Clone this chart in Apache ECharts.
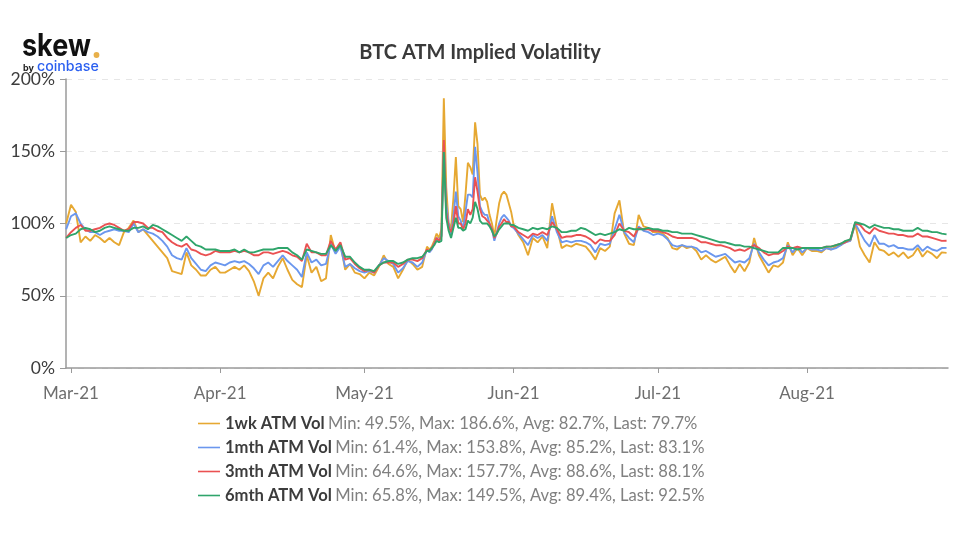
<!DOCTYPE html>
<html><head><meta charset="utf-8">
<script src="https://cdn.jsdelivr.net/npm/echarts@6/dist/echarts.min.js"></script>
<style>html,body{margin:0;padding:0;background:#fff}#c{width:960px;height:536px}</style>
</head><body><div id="c"></div>
<script>
const chartTitle = 'BTC ATM Implied Volatility';
const tickLabels = ['Mar-21','Apr-21','May-21','Jun-21','Jul-21','Aug-21'];
const tickMonths = [2,3,4,5,6,7];
const seriesNames = ['1wk ATM Vol','1mth ATM Vol','3mth ATM Vol','6mth ATM Vol'];
const seriesStats = [
 'Min: 49.5%, Max: 186.6%, Avg: 82.7%, Last: 79.7%',
 'Min: 61.4%, Max: 153.8%, Avg: 85.2%, Last: 83.1%',
 'Min: 64.6%, Max: 157.7%, Avg: 88.6%, Last: 88.1%',
 'Min: 65.8%, Max: 149.5%, Avg: 89.4%, Last: 92.5%'];
const colors = ['#e6a832','#6b97ee','#ea5152','#2fa56b'];

// Samples: daily from 28 Feb, twice daily around the mid-May spike, daily afterwards.
const wk1 = [100,113,108,87,91,88,92,90,87,90,87,85,94,97,102,94,96,92,88,84,80,76,67,66,65,80,71,68,64,64,68,70,
 66,66,68,70,68,71,67,60,50,62,66,62,70,76,68,61,58,56,78,66,70,60,62,92,80,86,68,72,66,65,
 62,66,64,70,78,72,70,62,68,75,72,68,70,
 84,82,84,88,93,90,96,186.6,125,100,97,118,146,112,110,101,120,142,139,134,170,155,120,116,118,115,106,100,91,103,114,120,122,120,114,108,
 99,92,87,78,90,87,91,83,114,97,83,85,84,86,85,84,80,75,83,81,84,107,116,93,86,85,106,98,97,94,
 94,93,90,83,82,85,83,84,81,75,78,75,73,75,77,71,66,72,67,73,90,78,72,66,71,70,73,87,78,83,78,
 83,81,81,80,83,82,84,85,88,88,100,84,78,73,87,82,81,78,80,77,80,76,78,83,77,81,79,76,80,79.7];
const mth1 = [96,105,107,100,96,94,94,92,94,95,96,95,95,94,100,94,96,94,93,91,88,84,78,76,75,83,76,72,68,67,71,73,
 72,71,73,74,73,74,72,69,65,71,73,70,74,78,74,71,68,63,80,73,75,71,72,86,79,84,70,72,69,67,
 66,67,66,71,76,74,72,66,69,74,73,70,73,
 82,80,82,86,90,88,92,153.8,113,100,92,105,122,105,102,96,108,120,120,118,153,135,112,108,106,106,100,96,88,94,100,104,106,104,102,98,
 97,93,89,85,92,90,92,88,105,94,87,88,87,88,88,87,85,80,86,85,86,96,106,94,90,87,98,95,94,92,
 93,92,89,85,84,85,84,84,83,80,81,79,77,78,79,76,73,74,73,76,86,80,75,71,73,74,76,85,80,84,80,
 83,82,82,81,83,82,83,85,87,88,100,94,88,84,92,86,86,84,85,83,83,82,82,85,81,84,82,81,83,83.1];
const mth3 = [90,94,97,99,95,95,96,97,99,100,99,97,95,96,101,101,100,97,97,95,94,90,87,85,84,86,82,81,79,78,79,81,
 80,80,80,81,80,81,80,78,78,80,80,79,80,81,80,78,77,74,86,80,80,78,78,88,82,87,75,76,72,69,
 67,68,66,71,73,73,73,70,72,75,75,74,76,
 82,81,83,86,90,88,91,157.7,108,98,94,100,112,100,100,96,100,110,106,110,132,122,110,105,104,102,100,96,90,93,98,100,103,101,101,98,
 98,94,92,90,93,92,94,92,101,96,90,91,91,92,92,91,89,86,89,88,88,92,100,95,94,91,97,96,96,95,
 95,94,93,91,90,90,90,90,89,87,87,86,85,85,84,83,81,82,81,83,85,83,80,78,79,79,81,84,83,84,83,
 83,83,83,83,84,84,85,86,87,89,100,99,95,93,97,95,94,93,93,92,92,91,91,93,91,91,90,89,88,88.1];
const mth6 = [90,92,93,96,97,96,94,95,97,98,97,96,95,95,97,97,98,96,99,98,96,94,92,90,88,91,88,85,84,82,82,82,
 81,81,81,82,80,82,80,80,81,82,82,82,83,83,83,80,78,75,82,81,80,79,79,85,81,85,77,77,73,70,
 68,68,67,71,73,74,74,72,73,75,76,76,77,
 81,81,83,85,88,87,88,149.5,104,95,90,97,104,97,97,95,96,102,100,104,115,110,102,100,100,100,98,95,91,93,96,98,100,100,100,99,
 99,97,96,95,97,96,97,96,98,97,94,94,95,95,97,96,94,92,93,92,93,94,96,95,97,96,96,96,97,96,
 96,95,95,94,94,93,93,93,92,91,90,89,88,87,87,86,85,85,84,84,83,82,81,80,80,80,83,83,83,82,83,
 83,83,83,83,84,84,85,86,88,89,101,100,99,97,99,98,97,97,96,96,95,95,95,97,95,95,94,94,93,92.5];
const seriesValues = [wk1, mth1, mth3, mth6];

const DAY = 864e5, MAR1 = Date.UTC(2021,2,1);
const times = [];
for (let d=-1; d<74; d++) times.push(MAR1+d*DAY);
for (let d=74; d<92; d+=0.5) times.push(MAR1+d*DAY);
for (let d=92; d<=182; d++) times.push(MAR1+d*DAY);
const tickTimes = tickMonths.map(m=>Date.UTC(2021,m,1));

const chart = echarts.init(document.getElementById('c'), null, {renderer:'canvas'});
chart.setOption({
 animation:false,
 backgroundColor:'#fff',
 title:{text:chartTitle,left:480,textAlign:'center',top:43,padding:0,
  textStyle:{fontFamily:'Lato',fontSize:20,fontWeight:'bold',color:'#3a3a3a'}},
 grid:{left:66,right:12,top:79,bottom:168},
 xAxis:{type:'value',min:MAR1-1.04*DAY,max:MAR1+182.3*DAY,
  splitLine:{show:false},
  axisLine:{onZero:false,lineStyle:{color:'#9a9a9a',width:1.5}},
  axisTick:{customValues:tickTimes,length:5,lineStyle:{color:'#9a9a9a'}},
  axisLabel:{customValues:tickTimes,margin:17,fontFamily:'Lato',fontSize:17,color:'#6e6e6e',hideOverlap:false,
   showMinLabel:true,showMaxLabel:true,
   formatter:v=>tickLabels[tickTimes.indexOf(v)]||''}},
 yAxis:{type:'value',min:0,max:200,interval:50,
  axisLine:{show:true,lineStyle:{color:'#9a9a9a',width:1.5}},
  axisTick:{show:true,length:6,lineStyle:{color:'#9a9a9a'}},
  axisLabel:{margin:11,fontFamily:'Lato',fontSize:17.5,color:'#3c3c3c',formatter:'{value}%'},
  splitLine:{lineStyle:{color:'#e6e6e6',type:[6,6],width:1}}},
 legend:{orient:'vertical',left:198,top:415,padding:0,icon:'rect',itemWidth:22,itemHeight:1.6,itemGap:7,
  data:seriesNames,
  formatter:n=>`{n|${n}} {s|${seriesStats[seriesNames.indexOf(n)]}}`,
  textStyle:{rich:{
   n:{fontFamily:'Lato',fontSize:16.6,fontWeight:'bold',color:'#3c3c3c',lineHeight:20},
   s:{fontFamily:'Lato',fontSize:16.6,color:'#808080',lineHeight:20}}}},
 graphic:[
  {type:'text',x:22,y:31,scaleY:1.15,style:{text:'skew',fontFamily:'Inter',fontSize:27,fontWeight:'bold',fill:'#111'}},
  {type:'circle',shape:{cx:96.5,cy:55,r:2.9},style:{fill:'#e8b04a'}},
  {type:'text',x:23,y:64,style:{text:'by',fontFamily:'Inter',fontSize:9,fontWeight:'bold',fill:'#222'}},
  {type:'text',x:37,y:59.5,style:{text:'coinbase',fontFamily:'Inter',fontSize:14.2,fontWeight:500,fill:'#2a5ff0'}}
 ],
 series:seriesNames.map((n,i)=>({
  name:n,type:'line',showSymbol:false,symbol:'none',smooth:false,
  data:times.map((t,j)=>[t,seriesValues[i][j]]),
  lineStyle:{color:colors[i],width:1.9},itemStyle:{color:colors[i]}
 }))
});
</script></body></html>
